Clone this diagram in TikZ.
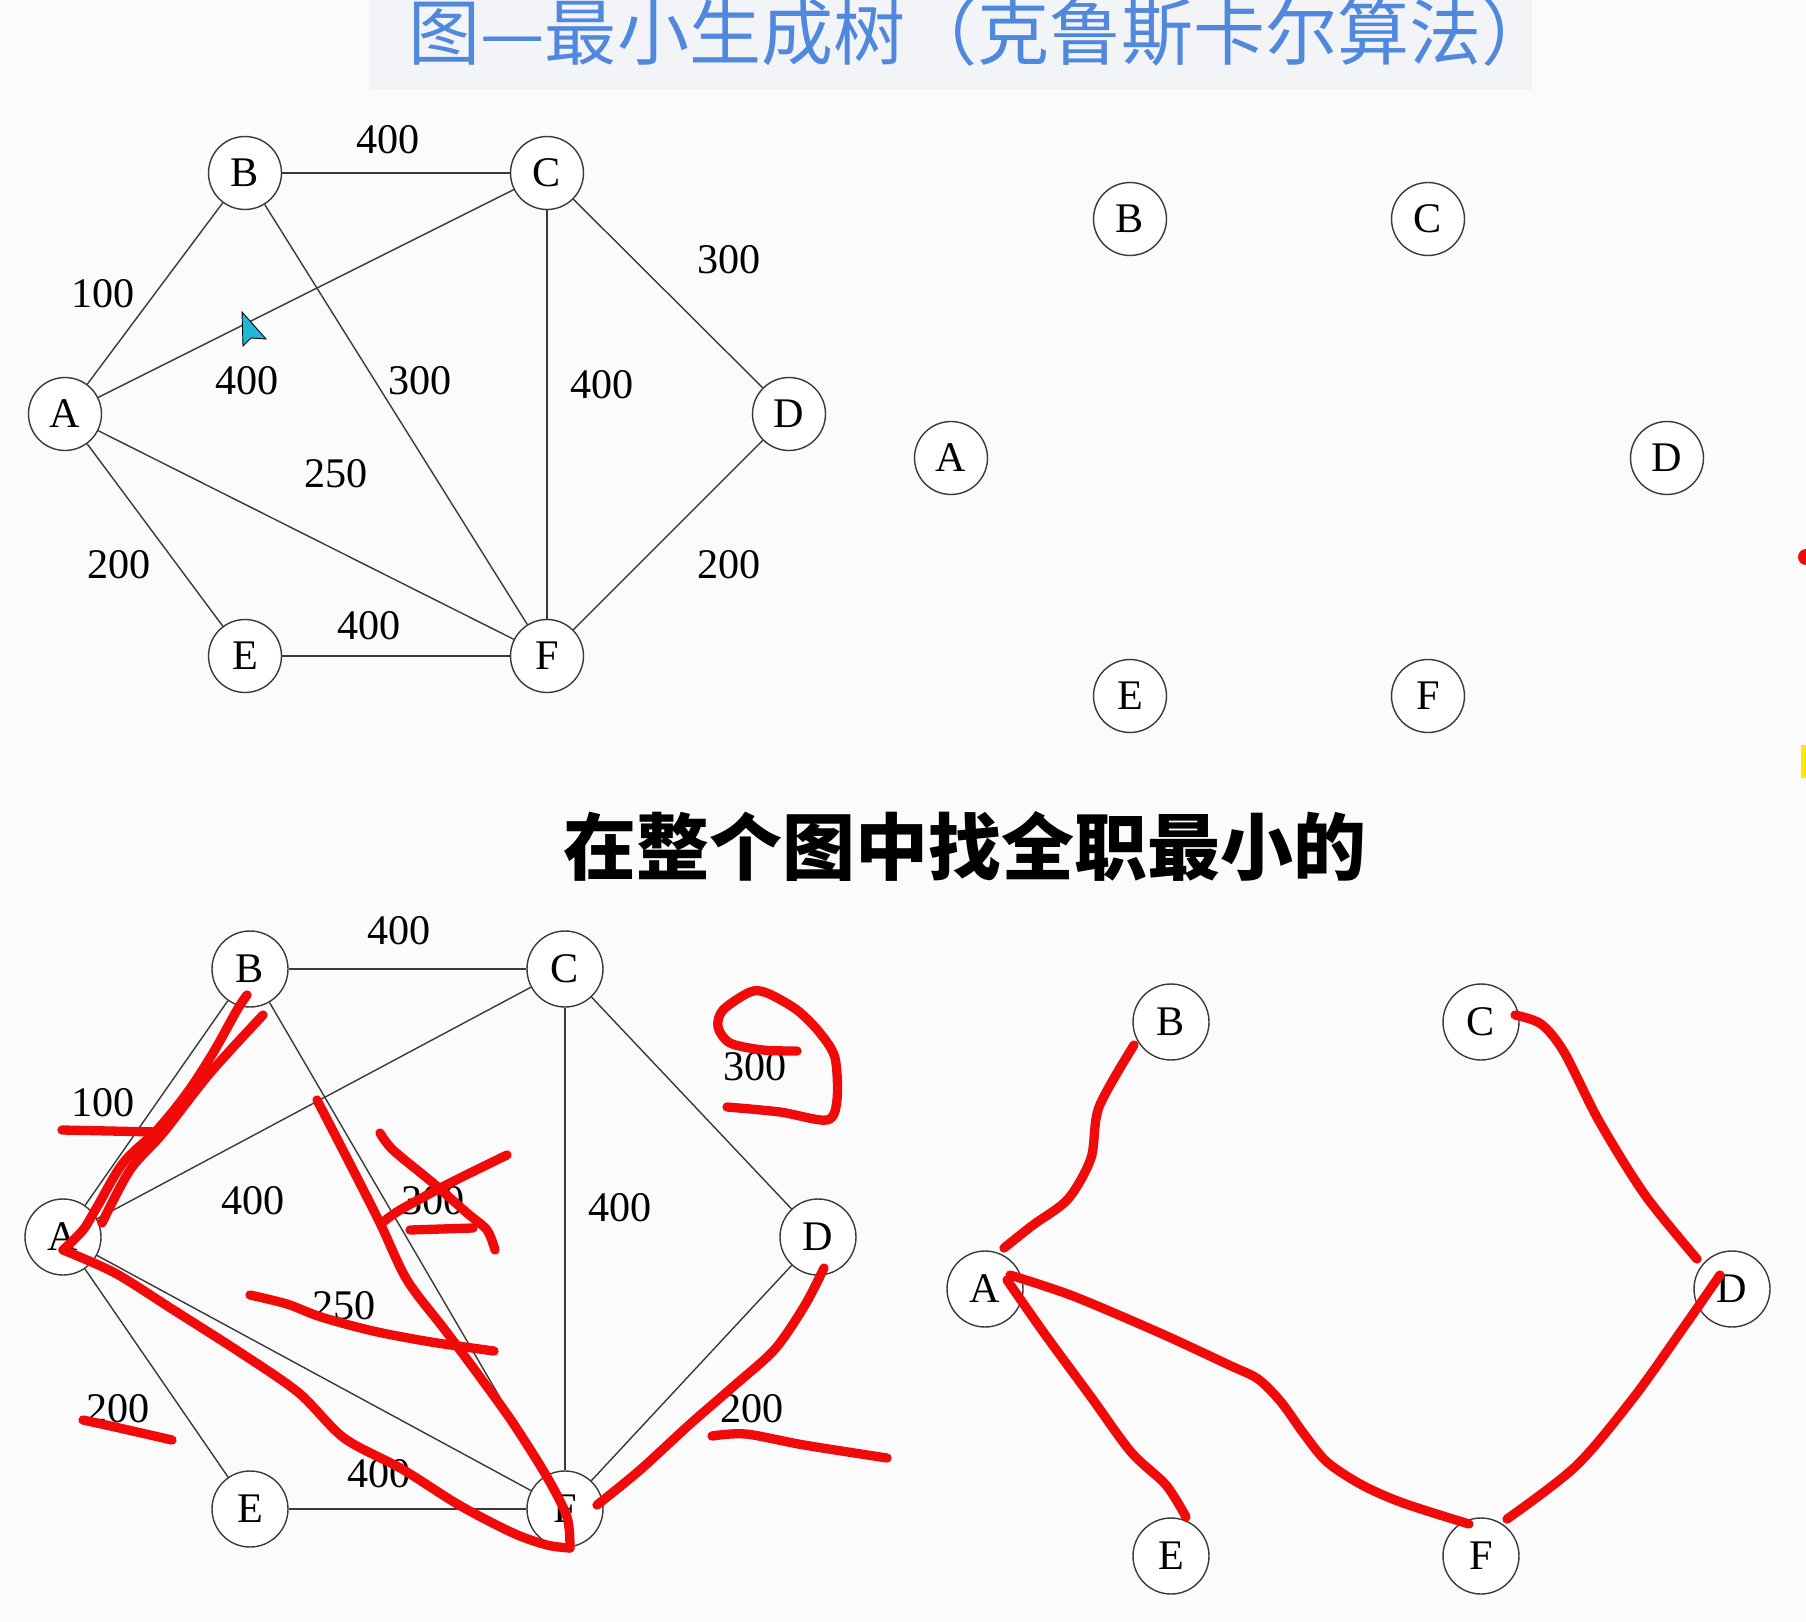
\documentclass[tikz,border=0pt]{standalone}
\usepackage{fontspec}
\setmainfont{Liberation Serif}
\newfontfamily\cjk{Noto Sans CJK SC}
\usetikzlibrary{positioning}
\definecolor{titleblue}{HTML}{5088DE}
\definecolor{bandC}{HTML}{F2F4F8}
\definecolor{fondC}{HTML}{FBFBFC}
\definecolor{penred}{HTML}{F00A0A}
\definecolor{lineC}{HTML}{3A3A3A}
\definecolor{cursorC}{HTML}{1FB8D8}
\tikzset{
  vtx/.style={circle, draw=lineC, line width=0.8pt, fill=white, minimum size=1.46cm,
              inner sep=0pt, font=\fontsize{24}{24}\selectfont},
  vtxb/.style={vtx, minimum size=1.52cm},
  wlab/.style={font=\fontsize{24}{24}\selectfont, inner sep=0pt},
  link/.style={draw=lineC, line width=0.8pt},
  redpen/.style={draw=penred, line width=5.3pt, line cap=round, line join=round},
}

\begin{document}
\begin{tikzpicture}[x=0.02cm, y=-0.02cm]
  \useasboundingbox (0,0) rectangle (1806,1622);
  \fill[fondC] (0,0) rectangle (1806,1622);
  \fill[bandC] (369,0) rectangle (1532,90);

  \node[font=\cjk\fontsize{41}{41}\selectfont, text=titleblue, anchor=base, inner sep=0pt] (titre)
    at (981,60) {图—最小生成树（克鲁斯卡尔算法）};
  \node[font=\cjk\bfseries\fontsize{41.5}{41.5}\selectfont, anchor=base, inner sep=0pt] (consigne)
    at (965,874) {在整个图中找全职最小的};

  % graphe complet, en haut a gauche
  \node[vtx] (tA) at (65,414) {A};
  \node[vtx] (tB) at (245,173) {B};
  \node[vtx] (tC) at (547,173) {C};
  \node[vtx] (tD) at (789,414) {D};
  \node[vtx] (tE) at (245,656) {E};
  \node[vtx] (tF) at (547,656) {F};
  \draw[link] (tA) -- (tB);
  \draw[link] (tA) -- (tC);
  \draw[link] (tA) -- (tF);
  \draw[link] (tA) -- (tE);
  \draw[link] (tB) -- (tC);
  \draw[link] (tB) -- (tF);
  \draw[link] (tC) -- (tF);
  \draw[link] (tC) -- (tD);
  \draw[link] (tD) -- (tF);
  \draw[link] (tE) -- (tF);
  \node[wlab] (tw1) at (388,140) {400};
  \node[wlab] (tw2) at (103,294) {100};
  \node[wlab] (tw3) at (729,260) {300};
  \node[wlab] (tw4) at (247,381) {400};
  \node[wlab] (tw5) at (420,381) {300};
  \node[wlab] (tw6) at (602,385) {400};
  \node[wlab] (tw7) at (336,474) {250};
  \node[wlab] (tw8) at (119,565) {200};
  \node[wlab] (tw9) at (729,565) {200};
  \node[wlab] (tw10) at (369,626) {400};
  \filldraw[fill=cursorC, draw=black, line width=0.5pt]
    (242,312) -- (243,346) -- (251,338) -- (266,339) -- cycle;

  % sommets seuls, en haut a droite
  \node[vtx] (rA) at (951,458) {A};
  \node[vtx] (rB) at (1130,219) {B};
  \node[vtx] (rC) at (1428,219) {C};
  \node[vtx] (rD) at (1667,458) {D};
  \node[vtx] (rE) at (1130,696) {E};
  \node[vtx] (rF) at (1428,696) {F};
  \fill[penred] (1806,557) circle (8);
  \fill[yellow!90!orange] (1801,745) rectangle (1806,778);

  % graphe annote, en bas a gauche
  \node[vtxb] (bA) at (63,1237) {A};
  \node[vtxb] (bB) at (250,969) {B};
  \node[vtxb] (bC) at (565,969) {C};
  \node[vtxb] (bD) at (818,1237) {D};
  \node[vtxb] (bE) at (250,1509) {E};
  \node[vtxb] (bF) at (565,1509) {F};
  \draw[link] (bA) -- (bB);
  \draw[link] (bA) -- (bC);
  \draw[link] (bA) -- (bF);
  \draw[link] (bA) -- (bE);
  \draw[link] (bB) -- (bC);
  \draw[link] (bB) -- (bF);
  \draw[link] (bC) -- (bF);
  \draw[link] (bC) -- (bD);
  \draw[link] (bD) -- (bF);
  \draw[link] (bE) -- (bF);
  \node[wlab] (bw1) at (399,931) {400};
  \node[wlab] (bw2) at (103,1103) {100};
  \node[wlab] (bw3) at (755,1067) {300};
  \node[wlab] (bw4) at (253,1201) {400};
  \node[wlab] (bw5) at (433,1201) {300};
  \node[wlab] (bw6) at (620,1208) {400};
  \node[wlab] (bw7) at (344,1306) {250};
  \node[wlab] (bw8) at (118,1409) {200};
  \node[wlab] (bw9) at (752,1409) {200};
  \node[wlab] (bw10) at (379,1474) {400};

  \draw[redpen] (62,1130) -- (157,1132);
  \draw[redpen] plot[smooth] coordinates {([shift={(0,13)}]bA.center) (83,1230) (97,1207) (123,1163)
    (157,1130) (187,1093) (213,1053) (237,1010) ([shift={(-3,26)}]bB.center)};
  \draw[redpen] plot[smooth] coordinates {([shift={(39,-14)}]bA.center) (130,1170) (163,1133)
    (210,1073) ([shift={(13,46)}]bB.center)};
  \draw[redpen] plot[smooth] coordinates {([shift={(0,13)}]bA.center) (115,1273) (172,1309) (241,1353)
    (299,1393) (344,1438) (402,1469) (459,1505) (513,1533) (547,1545) ([shift={(5,39)}]bF.center)};
  \draw[redpen] plot[smooth] coordinates {(317,1100) (348,1160) (380,1223) (407,1280) (445,1330)
    (480,1377) (513,1423) (547,1477) (567,1517) ([shift={(5,39)}]bF.center)};
  \draw[redpen] plot[smooth] coordinates {([shift={(32,-4)}]bF.center) (640,1470) (689,1425)
    (735,1385) (775,1349) (805,1305) ([shift={(6,31)}]bD.center)};
  \draw[redpen] plot[smooth] coordinates {(250,1295) (287,1304) (321,1317) (373,1331) (431,1342) (494,1351)};
  \draw[redpen] plot[smooth] coordinates {(380,1133) (393,1150) (433,1183) (467,1213) (487,1230) (495,1250)};
  \draw[redpen] plot[smooth] coordinates {(382,1223) (400,1210) (450,1183) (507,1155)};
  \draw[redpen] (410,1230) -- (473,1228);
  \draw[redpen] plot[smooth] coordinates {(83,1420) (115,1427) (172,1440)};
  \draw[redpen] plot[smooth] coordinates {(712,1436) (746,1434) (804,1445) (887,1458)};
  \draw[redpen] plot[smooth] coordinates {(797,1051) (763,1050) (730,1043) (718,1027) (723,1010)
    (750,992) (767,993) (797,1010) (820,1033) (835,1058) (837,1100) (827,1120) (780,1112) (727,1107)};

  % arbre couvrant, en bas a droite
  \node[vtxb] (mA) at (985,1289) {A};
  \node[vtxb] (mB) at (1171,1022) {B};
  \node[vtxb] (mC) at (1481,1022) {C};
  \node[vtxb] (mD) at (1732,1289) {D};
  \node[vtxb] (mE) at (1171,1556) {E};
  \node[vtxb] (mF) at (1481,1556) {F};
  \draw[redpen] plot[smooth] coordinates {([shift={(19,-41)}]mA.center) (1033,1225) (1068,1199)
    (1091,1158) (1099,1107) ([shift={(-37,23)}]mB.center)};
  \draw[redpen] plot[smooth] coordinates {([shift={(22,-9)}]mA.center) (1044,1333) (1091,1397)
    (1131,1452) (1166,1485) ([shift={(15,-39)}]mE.center)};
  \draw[redpen] plot[smooth] coordinates {([shift={(25,-14)}]mA.center) (1073,1296) (1160,1333)
    (1229,1365) (1258,1379) (1281,1402) (1304,1434) (1327,1462) (1362,1485) (1403,1503)
    ([shift={(-12,-32)}]mF.center)};
  \draw[redpen] plot[smooth] coordinates {([shift={(34,-7)}]mC.center) (1541,1024) (1564,1052)
    (1599,1121) (1645,1195) ([shift={(-35,-30)}]mD.center)};
  \draw[redpen] plot[smooth] coordinates {([shift={(-12,-14)}]mD.center) (1686,1324) (1634,1397)
    (1576,1466) ([shift={(26,-37)}]mF.center)};
\end{tikzpicture}
\end{document}
